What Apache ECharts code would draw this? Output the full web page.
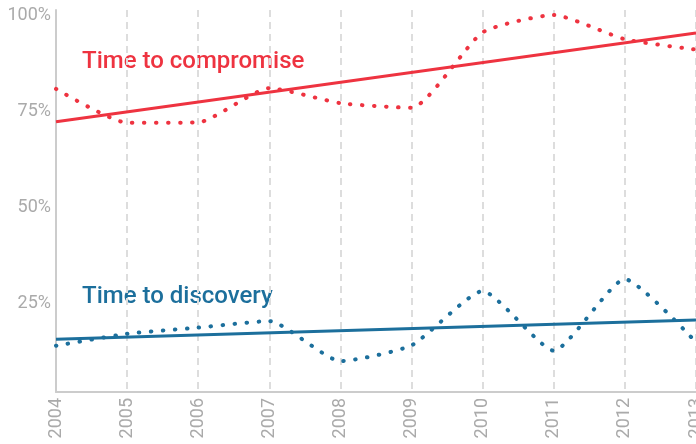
<!DOCTYPE html>
<html>
<head>
<meta charset="utf-8">
<script src="https://cdn.jsdelivr.net/npm/echarts@6/dist/echarts.min.js"></script>
<style>
html,body{margin:0;padding:0;background:#fff;}
#chart{width:696px;height:444px;}
</style>
</head>
<body>
<div id="chart"></div>
<script>
var years = ['2004','2005','2006','2007','2008','2009','2010','2011','2012','2013'];
var compromise = [80.8, 72.0, 72.1, 81.0, 77.1, 75.9, 95.5, 100.0, 93.7, 91.0];
var compromiseTrend = [72.3, 95.3];
var discovery = [14.1, 17.2, 18.8, 20.5, 10.1, 14.2, 28.3, 12.8, 31.4, 15.0];
var discoveryTrend = [15.8, 20.8];
var yTicks = [25, 50, 75, 100];

var RED = '#ee3340';
var BLUE = '#1c6f9c';

function trendData(tr) {
  var arr = years.map(function(){ return null; });
  arr[0] = tr[0];
  arr[years.length - 1] = tr[1];
  return arr;
}

var chart = echarts.init(document.getElementById('chart'), null, {renderer: 'canvas'});
chart.setOption({
  animation: false,
  grid: {left: 56, right: 0, top: 10, bottom: 52, containLabel: false, outerBoundsMode: 'none'},
  xAxis: {
    type: 'category',
    data: years,
    boundaryGap: false,
    axisLine: {show: true, lineStyle: {color: '#cccccc', width: 2}},
    axisTick: {show: false},
    axisLabel: {rotate: 90, color: '#aaaaaa', fontSize: 18, fontFamily: 'Roboto', margin: 6, interval: 0, hideOverlap: false},
    splitLine: {show: true, lineStyle: {color: '#dddddd', width: 2, type: [7, 5]}}
  },
  yAxis: {
    type: 'value',
    min: 2.08,
    max: 101.3,
    axisLine: {show: true, lineStyle: {color: '#cccccc', width: 2}},
    axisTick: {show: false},
    splitLine: {show: false},
    axisLabel: {
      customValues: yTicks,
      formatter: function(v){ return Math.round(v) + '%'; },
      color: '#aaaaaa', fontSize: 18, fontFamily: 'Roboto', margin: 5
    }
  },
  graphic: [
    {type: 'text', left: 82, top: 50, style: {text: 'Time to compromise', fill: RED, font: '500 24px Roboto'}},
    {type: 'text', left: 82, top: 285, style: {text: 'Time to discovery', fill: BLUE, font: '500 24px Roboto'}}
  ],
  series: [
    {
      type: 'line', data: compromise, smooth: 0.18, symbol: 'none',
      lineStyle: {color: RED, width: 4, type: [0.5, 11.5], cap: 'round'}
    },
    {
      type: 'line', data: trendData(compromiseTrend), connectNulls: true, symbol: 'none',
      lineStyle: {color: RED, width: 3}
    },
    {
      type: 'line', data: discovery, smooth: 0.18, symbol: 'none',
      lineStyle: {color: BLUE, width: 4, type: [0.5, 11.5], cap: 'round'}
    },
    {
      type: 'line', data: trendData(discoveryTrend), connectNulls: true, symbol: 'none',
      lineStyle: {color: BLUE, width: 3}
    }
  ]
});
</script>
</body>
</html>
